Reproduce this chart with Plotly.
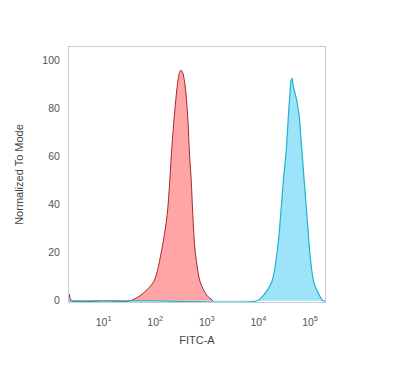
import numpy as np
import plotly.graph_objects as go

# log10(FITC-A) positions and Normalized-To-Mode values
red_log = [0.33, 0.38, 1.0, 1.51, 1.71, 1.97, 2.13, 2.23, 2.28, 2.32, 2.37, 2.43, 2.47, 2.50,
           2.54, 2.58, 2.63, 2.66, 2.70, 2.73, 2.77, 2.87, 3.00, 3.12]
red_val = [3.0, 0.0, 0.0, 0.0, 2.2, 7.9, 21.6, 35.4, 49.2, 63.0, 76.8, 90.0, 95.0, 96.1,
           94.5, 89.5, 76.8, 63.0, 49.2, 35.4, 21.6, 7.9, 2.3, 0.0]

blue_log = [0.33, 2.0, 3.97, 4.10, 4.26, 4.37, 4.43, 4.48, 4.54, 4.58, 4.61, 4.63, 4.65, 4.68,
            4.74, 4.79, 4.84, 4.89, 4.94, 4.99, 5.07, 5.18, 5.25, 5.29]
blue_val = [0.0, 0.0, 0.0, 2.3, 7.9, 21.6, 35.4, 49.2, 63.0, 76.8, 86.0, 91.5, 92.6, 89.0,
            83.7, 76.8, 63.0, 49.2, 35.4, 21.6, 7.9, 2.3, 0.0, 0.0]

x_ticks = [10, 100, 1000, 10000, 100000]
x_ticktext = ["10<sup>1</sup>", "10<sup>2</sup>", "10<sup>3</sup>", "10<sup>4</sup>", "10<sup>5</sup>"]
y_ticks = [0, 20, 40, 60, 80, 100]

red_x = [10 ** v for v in red_log]
blue_x = [10 ** v for v in blue_log]

fig = go.Figure()
fig.add_trace(go.Scatter(x=red_x, y=red_val, mode="lines", line=dict(color="#a3262c", width=1, shape="spline", smoothing=0.8),
                         fill="tozeroy", fillcolor="rgba(255,140,140,0.78)", showlegend=False))
fig.add_trace(go.Scatter(x=blue_x, y=blue_val, mode="lines", line=dict(color="#1fb3cf", width=1.2, shape="spline", smoothing=0.8),
                         fill="tozeroy", fillcolor="rgba(140,222,248,0.85)", showlegend=False))

font = "Liberation Sans, Arial, sans-serif"
fig.update_layout(
    width=400, height=365,
    margin=dict(l=61, r=83, t=39, b=71),
    paper_bgcolor="white", plot_bgcolor="white",
    font=dict(family=font, size=10, color="#555"),
    xaxis=dict(type="log", range=[0.33, 5.29], tickvals=x_ticks, ticktext=x_ticktext,
               showgrid=False, zeroline=False, showline=True, linecolor="#cccccc", linewidth=1, mirror=True,
               ticks="", ticklabelstandoff=10, tickfont=dict(size=10.5, color="#555"),
               title=dict(text="FITC-A", font=dict(size=11, color="#444"), standoff=9)),
    yaxis=dict(range=[-0.5, 105.7], tickvals=y_ticks, showgrid=False, zeroline=False,
               showline=True, linecolor="#cccccc", linewidth=1, mirror=True, ticks="",
               ticklabelstandoff=6, tickfont=dict(size=10.5, color="#555"),
               title=dict(text="Normalized To Mode", font=dict(size=11, color="#444"), standoff=16)),
)

fig.write_html("out.html")
